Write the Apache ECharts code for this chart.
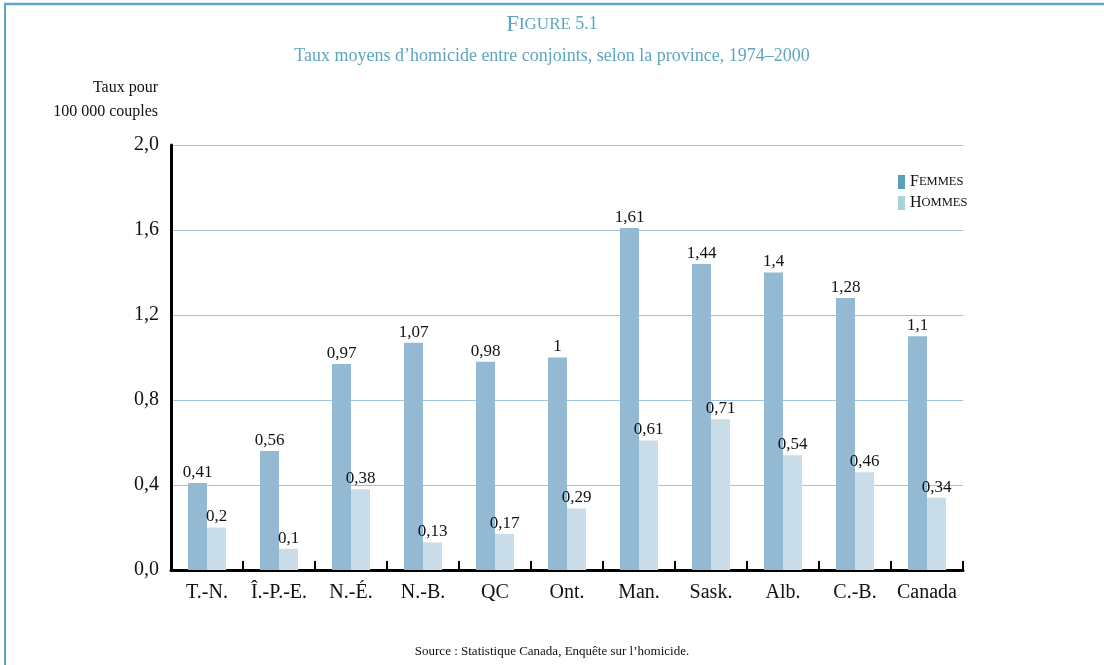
<!DOCTYPE html>
<html>
<head>
<meta charset="utf-8">
<script src="https://cdn.jsdelivr.net/npm/echarts@6/dist/echarts.min.js"></script>
<style>
  html, body { margin: 0; padding: 0; background: #fff; }
  #chart { width: 1104px; height: 665px; }
</style>
</head>
<body>
<div id="chart"></div>
<script>
// données
var provinces = ['T.-N.', 'Î.-P.-E.', 'N.-É.', 'N.-B.', 'QC', 'Ont.', 'Man.', 'Sask.', 'Alb.', 'C.-B.', 'Canada'];
var femmes = [0.41, 0.56, 0.97, 1.07, 0.98, 1, 1.61, 1.44, 1.4, 1.28, 1.1];
var hommes = [0.2, 0.1, 0.38, 0.13, 0.17, 0.29, 0.61, 0.71, 0.54, 0.46, 0.34];
var yTicks = [0, 0.4, 0.8, 1.2, 1.6, 2.0];

var serif = '"Liberation Serif", "DejaVu Serif", serif';
var teal = '#5ea5c0';

function virgule(v) {
  return String(v).replace('.', ',');
}

var chart = echarts.init(document.getElementById('chart'));

var labelOpt = {
  show: true,
  position: 'top',
  distance: 2,
  color: '#111',
  fontFamily: serif,
  fontSize: 17,
  formatter: function (p) { return virgule(p.value); }
};

chart.setOption({
  animation: false,
  textStyle: { fontFamily: serif },
  title: [{
    text: '{a|F}{b|IGURE} {c|5.1}',
    left: 'center',
    top: 8,
    textStyle: {
      rich: {
        a: { fontFamily: serif, fontSize: 23, fontWeight: 'normal', color: teal },
        b: { fontFamily: serif, fontSize: 17, fontWeight: 'normal', color: teal },
        c: { fontFamily: serif, fontSize: 18, fontWeight: 'normal', color: teal }
      }
    }
  }, {
    text: 'Taux moyens d’homicide entre conjoints, selon la province, 1974–2000',
    left: 'center',
    top: 42,
    textStyle: { fontFamily: serif, fontSize: 18, fontWeight: 'normal', color: teal }
  }, {
    text: 'Source : Statistique Canada, Enquête sur l’homicide.',
    left: 'center',
    top: 640,
    textStyle: { fontFamily: serif, fontSize: 13, fontWeight: 'normal', color: '#111' }
  }],
  legend: {
    orient: 'vertical',
    left: 893,
    top: 169,
    itemWidth: 7,
    itemHeight: 14,
    itemGap: 5,
    icon: 'rect',
    data: [
      { name: 'Femmes', itemStyle: { color: '#5b9fba' } },
      { name: 'Hommes', itemStyle: { color: '#add0dd' } }
    ],
    formatter: function (n) {
      return '{a|' + n.charAt(0) + '}{b|' + n.slice(1).toUpperCase() + '}';
    },
    textStyle: {
      rich: {
        a: { fontFamily: serif, fontSize: 16, color: '#111' },
        b: { fontFamily: serif, fontSize: 12.5, color: '#111' }
      }
    }
  },
  grid: { left: 171, right: 141, top: 145, bottom: 95, containLabel: false },
  xAxis: {
    type: 'category',
    data: provinces,
    axisLine: { lineStyle: { color: '#000', width: 3 } },
    axisTick: { show: true, inside: true, interval: 0, length: 9, lineStyle: { color: '#000', width: 2 } },
    axisLabel: { color: '#111', fontFamily: serif, fontSize: 20, margin: 13, interval: 0 }
  },
  yAxis: {
    type: 'value',
    min: 0,
    max: 2,
    interval: 0.4,
    axisLine: { show: true, lineStyle: { color: '#000', width: 3 } },
    axisTick: { show: false },
    splitLine: { lineStyle: { color: '#9fc3dc', width: 1 } },
    axisLabel: {
      color: '#111', fontFamily: serif, fontSize: 20, margin: 12,
      formatter: function (v) { return v.toFixed(1).replace('.', ','); }
    }
  },
  graphic: [{
    type: 'text',
    style: {
      x: 158, y: 76,
      text: 'Taux pour\n100 000 couples',
      align: 'right',
      fill: '#111',
      font: '16px ' + serif,
      lineHeight: 24
    }
  }, {
    type: 'line',
    shape: { x1: 4, y1: 4, x2: 1104, y2: 4 },
    style: { stroke: teal, lineWidth: 2.5 }
  }, {
    type: 'line',
    shape: { x1: 5, y1: 4, x2: 5, y2: 665 },
    style: { stroke: teal, lineWidth: 2 }
  }],
  series: [{
    name: 'Femmes',
    type: 'bar',
    data: femmes,
    barWidth: 19,
    barGap: '0%',
    itemStyle: { color: '#94b9d3' },
    label: labelOpt
  }, {
    name: 'Hommes',
    type: 'bar',
    data: hommes,
    barWidth: 19,
    itemStyle: { color: '#c8dde8' },
    label: labelOpt
  }]
});
</script>
</body>
</html>
